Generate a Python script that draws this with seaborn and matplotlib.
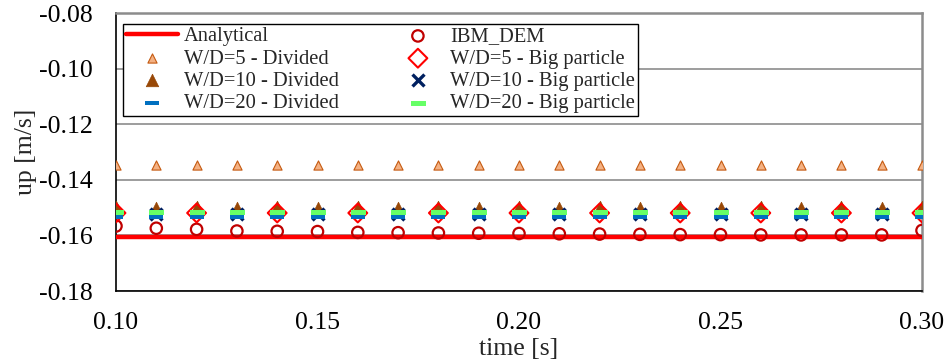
import matplotlib
matplotlib.use("Agg")
import matplotlib.pyplot as plt
import seaborn as sns
import numpy as np
import pandas as pd

# ---------------- data ----------------
time_all = [0.10, 0.11, 0.12, 0.13, 0.14, 0.15, 0.16, 0.17, 0.18, 0.19, 0.20,
            0.21, 0.22, 0.23, 0.24, 0.25, 0.26, 0.27, 0.28, 0.29, 0.30]
time_even = [0.10, 0.12, 0.14, 0.16, 0.18, 0.20, 0.22, 0.24, 0.26, 0.28, 0.30]
time_odd = [0.11, 0.13, 0.15, 0.17, 0.19, 0.21, 0.23, 0.25, 0.27, 0.29]

analytical_t = [0.10, 0.30]
analytical_v = [-0.1605, -0.1605]

ibm_dem = [-0.1566, -0.1574, -0.1578, -0.1584, -0.1585, -0.1586, -0.1589, -0.1590,
           -0.1591, -0.1592, -0.1593, -0.1594, -0.1595, -0.1596, -0.1597, -0.1597,
           -0.1598, -0.1598, -0.1598, -0.1598, -0.1582]
wd5_div = [-0.1346, -0.1346, -0.1346, -0.1346, -0.1346, -0.1346, -0.1346, -0.1346,
           -0.1346, -0.1346, -0.1346, -0.1346, -0.1346, -0.1346, -0.1346, -0.1346,
           -0.1346, -0.1346, -0.1346, -0.1346, -0.1346]
wd10_div = [-0.1497, -0.1500, -0.1497, -0.1500, -0.1497, -0.1500, -0.1497, -0.1500,
            -0.1497, -0.1500, -0.1497, -0.1500, -0.1497, -0.1500, -0.1497, -0.1500,
            -0.1497, -0.1500, -0.1497, -0.1500, -0.1497]
wd20_div = [-0.1532, -0.1532, -0.1532, -0.1532, -0.1532, -0.1532, -0.1532, -0.1532,
            -0.1532, -0.1532, -0.1532, -0.1532, -0.1532, -0.1532, -0.1532, -0.1532,
            -0.1532, -0.1532, -0.1532, -0.1532, -0.1532]
wd20_big = [-0.1517, -0.1517, -0.1517, -0.1517, -0.1517, -0.1517, -0.1517, -0.1517,
            -0.1517, -0.1517, -0.1517, -0.1517, -0.1517, -0.1517, -0.1517, -0.1517,
            -0.1517, -0.1517, -0.1517, -0.1517, -0.1517]
wd5_big = [-0.1519, -0.1519, -0.1519, -0.1519, -0.1519, -0.1519, -0.1519, -0.1519,
           -0.1519, -0.1519, -0.1519]
wd10_big = [-0.1521, -0.1521, -0.1521, -0.1521, -0.1521, -0.1521, -0.1521, -0.1521,
            -0.1521, -0.1521]

y_ticks = [-0.18, -0.16, -0.14, -0.12, -0.10, -0.08]
x_ticks = [0.10, 0.15, 0.20, 0.25, 0.30]

# ---------------- style ----------------
sns.set_theme(style="white")
plt.rcParams['font.family'] = ['Liberation Serif', 'DejaVu Serif']
plt.rcParams['axes.unicode_minus'] = False

fig = plt.figure(figsize=(9.51, 3.64), dpi=100)
ax = fig.add_axes([116 / 951, 1 - 291 / 364, (922 - 116) / 951, (291 - 13.3) / 364])

dash = [(-1.5, -0.5), (1.5, -0.5), (1.5, 0.5), (-1.5, 0.5), (-1.5, -0.5)]

sns.lineplot(x=analytical_t, y=analytical_v, ax=ax, color="#FF0000", lw=3.2,
             label="Analytical", zorder=3)
sns.scatterplot(x=time_all, y=ibm_dem, ax=ax, marker="o", s=8.2**2,
                facecolor="none", edgecolor="#C00000", linewidth=1.6,
                label="IBM_DEM", zorder=4)
sns.scatterplot(x=time_all, y=wd5_div, ax=ax, marker="^", s=6.6**2,
                color="#F4B183", edgecolor="#C55A11", linewidth=0.8,
                label="W/D=5 - Divided", zorder=5)
sns.scatterplot(x=time_all, y=wd10_div, ax=ax, marker="^", s=9.0**2,
                color="#984807", edgecolor="#984807", linewidth=0.5,
                label="W/D=10 - Divided", zorder=5)
sns.scatterplot(x=time_even, y=wd5_big, ax=ax, marker="D", s=9.6**2,
                facecolor="none", edgecolor="#FF0000", linewidth=1.5,
                label="W/D=5 - Big particle", zorder=6)
sns.scatterplot(x=time_odd, y=wd10_big, ax=ax, marker="x", s=8.6**2,
                color="#002060", linewidth=2.4,
                label="W/D=10 - Big particle", zorder=7)
sns.scatterplot(x=time_all, y=wd20_div, ax=ax, marker=dash, s=10.2**2,
                color="#0070C0", edgecolor="#0070C0", linewidth=0,
                label="W/D=20 - Divided", zorder=8)
sns.scatterplot(x=time_all, y=wd20_big, ax=ax, marker=dash, s=10.8**2,
                color="#66FF66", edgecolor="#66FF66", linewidth=0,
                label="W/D=20 - Big particle", zorder=9)

ax.set_xlim(0.10, 0.30)
ax.set_ylim(-0.18, -0.08)
ax.set_xticks(x_ticks)
ax.set_yticks(y_ticks)
ax.set_xticklabels([f"{v:.2f}" for v in x_ticks])
ax.set_yticklabels([f"{v:.2f}" for v in y_ticks])
ax.tick_params(axis="both", length=0, labelsize=18.5, colors="black")
ax.tick_params(axis="y", pad=17)
ax.tick_params(axis="x", pad=15)

ax.yaxis.grid(True, color="#8C8C8C", lw=1.2)
ax.xaxis.grid(False)
ax.set_axisbelow(True)
for side in ["left", "bottom"]:
    ax.spines[side].set_color("black")
    ax.spines[side].set_linewidth(1.2)
for side in ["top", "right"]:
    ax.spines[side].set_color("#8C8C8C")
    ax.spines[side].set_linewidth(1.8)

ax.set_xlabel("time [s]", fontsize=18.5)
ax.set_ylabel("up [m/s]", fontsize=18.5)
ax.xaxis.set_label_coords(0.5, -0.168)
ax.yaxis.set_label_coords(-0.098, 0.5)

handles, labels = ax.get_legend_handles_labels()
order = ["Analytical", "W/D=5 - Divided", "W/D=10 - Divided", "W/D=20 - Divided",
         "IBM_DEM", "W/D=5 - Big particle", "W/D=10 - Big particle", "W/D=20 - Big particle"]
hmap = dict(zip(labels, handles))
leg = ax.legend([hmap[l] for l in order], order, ncol=2, loc="upper left",
                bbox_to_anchor=(0.009, 0.962), borderaxespad=0, fontsize=14.8,
                frameon=True, fancybox=False, framealpha=1, edgecolor="black",
                handlelength=2.5, handletextpad=0.3, columnspacing=2.6,
                labelspacing=0.14, borderpad=0.15)
leg.get_frame().set_linewidth(1.0)

fig.savefig("out.png", dpi=100)
